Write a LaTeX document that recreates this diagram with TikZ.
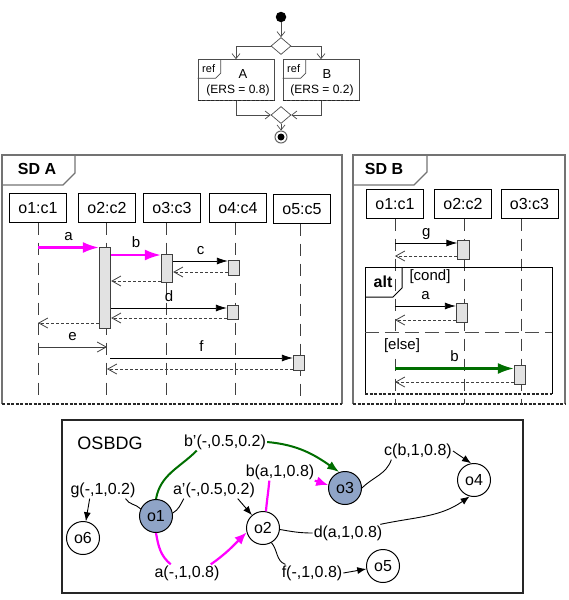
\documentclass[tikz,border=0pt]{standalone}
\usepackage{fontspec}
\setmainfont{Liberation Sans}
\usetikzlibrary{positioning,calc}
\usetikzlibrary{arrows.meta,shapes.geometric}

\definecolor{objfill}{RGB}{143,164,199}
\definecolor{msggreen}{RGB}{0,110,0}
\definecolor{msgpink}{RGB}{255,0,255}
\definecolor{barfill}{RGB}{226,226,226}
\definecolor{framegray}{RGB}{115,115,115}

\tikzset{
  acttext/.style={font=\fontsize{12}{12}\selectfont, inner sep=0pt},
  flow/.style={draw=black!70, line width=0.7pt, -{Straight Barb[length=5pt,width=8pt]}},
  refbox/.style={draw=black!70, line width=0.7pt, minimum width=76pt, minimum height=41pt, inner sep=0pt},
  choice/.style={diamond, draw=black!70, line width=0.7pt, minimum width=20pt, minimum height=17pt, inner sep=0pt},
  sdtext/.style={font=\fontsize{15}{15}\selectfont},
  sdtag/.style={font=\bfseries\fontsize{16}{16}\selectfont, inner sep=0pt},
  head/.style={draw, font=\fontsize{16}{16}\selectfont, minimum width=57pt, minimum height=29pt, inner sep=0pt},
  life/.style={draw=black!75, line width=0.8pt, dash pattern=on 12pt off 8pt},
  actbar/.style={draw=black!75, fill=barfill, line width=0.8pt, minimum width=11.5pt, inner sep=0pt, anchor=north},
  call/.style={line width=0.8pt, -{Latex[length=11pt,width=7pt]}},
  callm/.style={draw=msgpink, line width=2.2pt, -{Latex[length=16pt,width=11pt]}},
  callg/.style={draw=msggreen, line width=2.2pt, -{Latex[length=16pt,width=11pt]}},
  reply/.style={draw=black!75, line width=0.8pt, dash pattern=on 3pt off 2pt, -{Straight Barb[length=9pt,width=10pt]}},
  async/.style={draw=black!75, line width=0.8pt, -{Straight Barb[length=9pt,width=10pt]}},
  msglbl/.style={sdtext, above=6pt, inner sep=0pt, text depth=0pt},
  frameline/.style={draw=framegray, line width=1.4pt},
  cutoff/.style={draw=black!85, line width=1.2pt, dash pattern=on 3pt off 1.5pt},
  obj/.style={circle, draw, line width=1pt, minimum size=33pt, inner sep=0pt, font=\fontsize{16}{16}\selectfont},
  objf/.style={obj, fill=objfill},
  elbl/.style={font=\fontsize{16}{16}\selectfont, inner sep=1pt},
  dep/.style={line width=0.9pt},
  deparr/.style={dep, -{Latex[length=9pt,width=7pt]}},
  depm/.style={draw=msgpink, line width=2.2pt},
  depmarr/.style={depm, -{Latex[length=12pt,width=10pt]}},
  depg/.style={draw=msggreen, line width=2pt},
  depgarr/.style={depg, -{Latex[length=12pt,width=9pt]}}
}

\begin{document}
\begin{tikzpicture}[x=1pt,y=-1pt]
\useasboundingbox (0,0) rectangle (569,600);

\node[circle, fill, minimum size=10.5pt, inner sep=0pt] (start) at (281,17) {};
\node[choice] (fork) at (281,46) {};
\node[refbox] (refa) at (236,80) {};
\node[refbox] (refb) at (321,80) {};
\node[choice] (join) at (281,115) {};
\node[circle, draw=black!60, line width=1pt, minimum size=12pt, inner sep=0pt] (stop) at (281,137) {};
\fill (stop.center) circle (3.5pt);

\draw[flow] (start) -- (fork);
\draw[flow] (fork.west) -| (refa.north);
\draw[flow] (fork.east) -| (refb.north);
\draw[flow] (refa.south) |- (join.west);
\draw[flow] (refb.south) |- (join.east);
\draw[flow] (join) -- (stop);

\foreach \r in {refa,refb} {
  \draw[draw=black!70, line width=0.7pt] (\r.north west) ++(0,19) -- ++(18,0) -- ++(5,-5) -- ++(0,-14);
  \node[acttext, font=\fontsize{11}{11}\selectfont] at ($(\r.north west)+(11,9)$) {ref};
  \draw[cutoff] (\r.south west) -- (\r.south east);
}
\node[acttext, font=\fontsize{13}{13}\selectfont] at (243,74) {A};
\node[acttext] at (238,90) {(ERS = 0.8)};
\node[acttext, font=\fontsize{13}{13}\selectfont] at (327,74) {B};
\node[acttext] at (322,90) {(ERS = 0.2)};

\draw[frameline] (2,404) |- (342,155) -- (342,404);
\draw[cutoff] (2,404) -- (342,404);
\draw[frameline] (2,185) -- (63,185) -- (75,173) -- (75,155);
\node[sdtag] at (37,169) {SD A};

\node[head] (a1) at (38,208) {o1:c1};
\node[head] (a2) at (107,208) {o2:c2};
\node[head] (a3) at (172,208) {o3:c3};
\node[head] (a4) at (238,208) {o4:c4};
\node[head] (a5) at (302,209) {o5:c5};
\foreach \h/\x in {a1/38,a2/106.5,a3/166,a4/235,a5/300}
  \draw[life] (\h.south -| \x,0) -- (\x,404);

\node[actbar, minimum height=81pt] (ba2) at (105,246.5) {};
\node[actbar, minimum height=27.5pt] (ba3) at (167,254) {};
\node[actbar, minimum height=15pt] (ba4) at (234,260) {};
\node[actbar, minimum height=14pt] (ba4d) at (233,305) {};
\node[actbar, minimum height=14.5pt] (ba5) at (299,355) {};

\coordinate (ma) at (38,247.5);
\draw[callm] (ma) -- (ma -| ba2.west) node[msglbl, midway] {a};
\coordinate (mb) at (ba2.east |- 0,255);
\draw[callm] (mb) -- (mb -| ba3.west) node[msglbl, midway] {b};
\coordinate (mc) at (ba3.east |- 0,261);
\draw[call] (mc) -- (mc -| ba4.west) node[msglbl, midway] {c};
\coordinate (rc) at (ba4.west |- 0,272);
\draw[reply] (rc) -- (rc -| ba3.east);
\coordinate (rb) at (ba3.west |- 0,281);
\draw[reply] (rb) -- (rb -| ba2.east);
\coordinate (md) at (ba2.east |- 0,308);
\draw[call] (md) -- (md -| ba4d.west) node[msglbl, midway] {d};
\coordinate (rd) at (ba4d.west |- 0,318);
\draw[reply] (rd) -- (rd -| ba2.east);
\coordinate (ra) at (ba2.west |- 0,323);
\draw[reply] (ra) -- (ra -| a1);
\coordinate (me) at (38,347);
\draw[async] (me) -- (me -| a2) node[msglbl, midway] {e};
\coordinate (mf) at (110,358);
\draw[call] (mf) -- (mf -| ba5.west) node[msglbl, midway] {f};
\coordinate (rf) at (ba5.west |- 0,369);
\draw[reply] (rf) -- (rf -| a2);

\draw[frameline] (353,404) |- (565,155) -- (565,404);
\draw[cutoff] (353,404) -- (565,404);
\draw[frameline] (353,185) -- (414,185) -- (427,172) -- (427,155);
\node[sdtag] at (384,169) {SD B};

\node[head] (b1) at (395,204) {o1:c1};
\node[head] (b2) at (463,204) {o2:c2};
\node[head] (b3) at (529.5,204) {o3:c3};
\foreach \h/\x in {b1/395,b2/464,b3/521}
  \draw[life] (\h.south -| \x,0) -- (\x,404);

\draw[line width=1pt] (365,394) |- (552,267) -- (552,394);
\draw[cutoff] (365,394) -- (552,394);
\draw[line width=1pt] (365,297) -- (393,297) -- (402,288) -- (402,267);
\node[sdtag] at (383,282) {alt};
\draw[draw=black!70, line width=1pt, dash pattern=on 14pt off 6pt] (365,332) -- (552,332);
\node[sdtext] at (430,277) {[cond]};
\node[sdtext, fill=white, inner sep=1pt] at (402,346) {[else]};

\node[actbar, minimum height=19pt] (bg) at (463.5,239.5) {};
\node[actbar, minimum height=19.5pt] (bca) at (462,302.5) {};
\node[actbar, minimum height=18.5pt] (bcb) at (520,365) {};

\coordinate (mg) at (395,243);
\draw[call] (mg) -- (mg -| bg.west) node[msglbl, midway] {g};
\coordinate (rg) at (bg.west |- 0,256);
\draw[reply] (rg) -- (rg -| b1);
\coordinate (mba) at (395,306);
\draw[call] (mba) -- (mba -| bca.west) node[msglbl, midway] {a};
\coordinate (rba) at (bca.west |- 0,320);
\draw[reply] (rba) -- (rba -| b1);
\coordinate (mbb) at (395,368.5);
\draw[callg] (mbb) -- (mbb -| bcb.west) node[msglbl, midway] {b};
\coordinate (rbb) at (bcb.west |- 0,382);
\draw[reply] (rbb) -- (rbb -| b1);

\draw[draw=black!85, line width=1.3pt] (62,420) rectangle (523,593);
\node[font=\fontsize{18}{18}\selectfont] (graph) at (110,443) {OSBDG};

\node[objf] (o1) at (156,516) {o1};
\node[obj] (o2) at (263,528) {o2};
\node[objf] (o3) at (345,488) {o3};
\node[obj] (o4) at (474,480) {o4};
\node[obj] (o5) at (383,566) {o5};
\node[obj] (o6) at (83,538) {o6};

\node[elbl] (lg) at (103,490) {g(-,1,0.2)};
\node[elbl] (lap) at (214,490) {a’(-,0.5,0.2)};
\node[elbl] (lbp) at (225,442) {b’(-,0.5,0.2)};
\node[elbl] (lb) at (280,472) {b(a,1,0.8)};
\node[elbl] (la) at (187,573) {a(-,1,0.8)};
\node[elbl] (lc) at (418,451) {c(b,1,0.8)};
\node[elbl] (ld) at (348,533) {d(a,1,0.8)};
\node[elbl] (lf) at (312,573) {f(-,1,0.8)};

\draw[dep] (o1.155) to[out=135,in=-60] (lg.339);
\draw[deparr] (lg.213) -- (o6);
\draw[dep] (o1.10) to[out=30,in=-120] (lap.196);
\draw[deparr] (lap.340) -- (o2);
\draw[depg] (o1.north) to[out=80,in=-135] (lbp.197);
\draw[depgarr] (lbp.east) to[out=-5,in=145] (o3.110);
\draw[depm] (o2.80) to[out=85,in=-95] (lb.219);
\draw[depmarr] (lb.-14) -- (o3.170);
\draw[depm] (o1.south) to[out=-80,in=140] (la.152);
\draw[depmarr] (la.20) to[out=35,in=-135] (o2.195);
\draw[dep] (o3.east) to[out=45,in=-110] (lc.198);
\draw[deparr] (lc.east) -- (o4.100);
\draw[dep] (o2.-5) to[out=-10,in=180] (ld.west);
\draw[deparr] (ld.15) to[out=12,in=-145] (o4.255);
\draw[dep] (o2.-60) to[out=-50,in=160] (lf.162);
\draw[deparr] (lf.east) -- (o5);
\end{tikzpicture}
\end{document}
